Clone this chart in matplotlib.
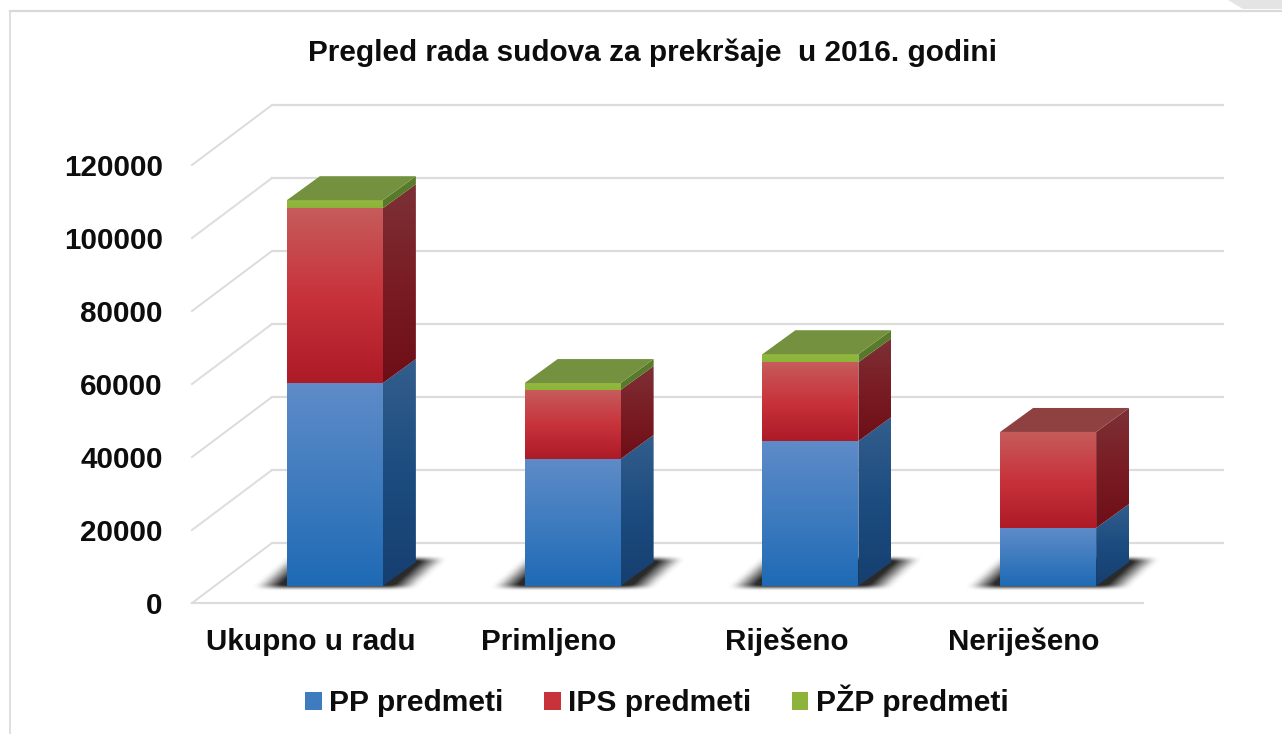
import numpy as np
import matplotlib
matplotlib.use("Agg")
import matplotlib.pyplot as plt
from matplotlib.patches import Polygon, Patch
from matplotlib.lines import Line2D
from matplotlib.colors import to_rgb

categories = ["Ukupno u radu", "Primljeno", "Riješeno", "Neriješeno"]
pp_predmeti = [55600, 34800, 39700, 15900]
ips_predmeti = [47900, 18900, 21600, 26300]
pzp_predmeti = [2200, 1900, 2200, 0]
y_ticks = [0, 20000, 40000, 60000, 80000, 100000, 120000]

W, H = 1282, 734
plt.rcParams["font.family"] = ["Liberation Sans", "DejaVu Sans"]
plt.rcParams["font.weight"] = "bold"

fig = plt.figure(figsize=(W / 100, H / 100), dpi=100, facecolor="white")
# front plane of the chart: x 192..1143, y 165..603 px
ax = fig.add_axes([192 / W, 1 - 603 / H, 951 / W, 438 / H])
ax.set_xlim(-0.5, 3.5)
ax.set_ylim(0, 120000)
PX = 4 / 951
PY = 120000 / 438


def vertical_gradient(corners, stops, zorder):
    # fills a polygon with a top to bottom gradient
    xs = [c[0] for c in corners]
    ys = [c[1] for c in corners]
    pos = np.linspace(0, 1, 64)
    rgb = np.array([to_rgb(s) for s in stops])
    where = np.linspace(0, 1, len(stops))
    img = np.stack([np.interp(pos, where, rgb[:, k]) for k in range(3)], axis=1)
    im = ax.imshow(img[:, None, :], extent=(min(xs), max(xs), min(ys), max(ys)),
                   aspect="auto", origin="upper", zorder=zorder, interpolation="bilinear")
    im.set_clip_path(Polygon(corners, transform=ax.transData))


def soft_shadow(x_c, zorder):
    # blurred parallelogram lying on the floor below a bar
    xx = np.arange(-130, 131)
    yy = np.arange(-22, 49)
    gx, gy = np.meshgrid(xx, yy)
    shift = gx - gy * 32 / 29
    mask = ((gy >= -1) & (gy <= 27) & (shift >= -66) & (shift <= 68)).astype(float)
    for size, axis in [(25, 1), (11, 1), (5, 0), (3, 0)]:
        kernel = np.ones(size) / size
        mask = np.apply_along_axis(lambda r: np.convolve(r, kernel, mode="same"), axis, mask)
    rgba = np.zeros(mask.shape + (4,))
    rgba[..., :3] = 0.12
    rgba[..., 3] = np.clip(mask * 1.15, 0, 1) * 0.95
    ax.imshow(rgba, origin="lower", aspect="auto", zorder=zorder, interpolation="bilinear", clip_on=False,
              extent=(x_c - 130 * PX, x_c + 130 * PX, BASE - 22 * PY, BASE + 48 * PY))


# grid: back wall, side wall and floor edge
BACK_X = 80 * PX
BACK_Y = 60 * PY
grid_color = "#DCDCDC"
for v in y_ticks:
    ax.plot([-0.5, -0.5 + BACK_X], [v, v + BACK_Y], color=grid_color, lw=1.4, clip_on=False, zorder=1)
    ax.plot([-0.5 + BACK_X, 3.5 + BACK_X], [v + BACK_Y, v + BACK_Y], color=grid_color, lw=1.6,
            clip_on=False, zorder=1)
ax.plot([-0.5, 3.5], [0, 0], color=grid_color, lw=1.6, clip_on=False, zorder=1)

# bars sit a little behind the front plane
BASE = 17 * PY
SHIFT = 24 * PX
BAR_W = 96 * PX
DX = 33 * PX
DY = 24 * PY

series = [
    (pp_predmeti, ["#5F8BC8", "#3F7CBF", "#1F6AB5"], ["#335E8C", "#1C4C80", "#163F70"], "#335E8C"),
    (ips_predmeti, ["#C65B5B", "#C8333B", "#AD1B27"], ["#7C3136", "#7A1C23", "#6E0F18"], "#8F4142"),
    (pzp_predmeti, ["#93B93F", "#8DB33A"], ["#5A7D2C", "#567A2A"], "#74913F"),
]

for i in range(len(categories)):
    xc = i + SHIFT
    left, right = xc - BAR_W / 2, xc + BAR_W / 2
    soft_shadow(xc, 3)
    bottom = BASE
    top_color = None
    for values, front, side, top in series:
        v = values[i]
        if v == 0:
            continue
        vertical_gradient([(left, bottom), (right, bottom), (right, bottom + v), (left, bottom + v)], front, 5)
        vertical_gradient([(right, bottom), (right + DX, bottom + DY),
                           (right + DX, bottom + v + DY), (right, bottom + v)], side, 4)
        bottom += v
        top_color = top
    ax.add_patch(Polygon([(left, bottom), (right, bottom), (right + DX, bottom + DY), (left + DX, bottom + DY)],
                         closed=True, facecolor=top_color, edgecolor="none", zorder=5))

ax.set_xlim(-0.5, 3.5)
ax.set_ylim(0, 120000)
ax.patch.set_alpha(0)
for s in ax.spines.values():
    s.set_visible(False)
ax.set_xticks(range(len(categories)))
ax.set_xticklabels(categories, fontsize=21.3, color="#0D0D0D")
ax.set_yticks(y_ticks)
ax.set_yticklabels([str(v) for v in y_ticks], fontsize=21.3, color="#0D0D0D")
ax.tick_params(axis="x", length=0, pad=18)
ax.tick_params(axis="y", length=0, pad=21)

fig.text(653 / W, 1 - 53 / H, "Pregled rada sudova za prekršaje  u 2016. godini", fontsize=21.4,
         ha="center", va="center", color="#0D0D0D")

handles = [Patch(facecolor=series[k][1][1], label=name)
           for k, name in enumerate(["PP predmeti", "IPS predmeti", "PŽP predmeti"])]
fig.legend(handles=handles, ncol=3, loc="center", bbox_to_anchor=(657 / W, 1 - 701 / H), frameon=False,
           fontsize=21.6, handlelength=0.55, handleheight=0.55, handletextpad=0.25, columnspacing=1.35,
           labelcolor="#0D0D0D")

# page frame and folded corner of the source document
fig.add_artist(Line2D([10 / W, 1], [1 - 11 / H, 1 - 11 / H], color="#D9D9D9", lw=1.6))
fig.add_artist(Line2D([10 / W, 10 / W], [1 - 11 / H, 0], color="#D9D9D9", lw=1.2))
fig.add_artist(Polygon([(1228 / W, 1), (1243 / W, 1 - 9 / H), (1, 1 - 9 / H), (1, 1)], closed=True,
                       transform=fig.transFigure, facecolor="#E4E4E4", edgecolor="none"))

fig.savefig("out.png", dpi=100)
